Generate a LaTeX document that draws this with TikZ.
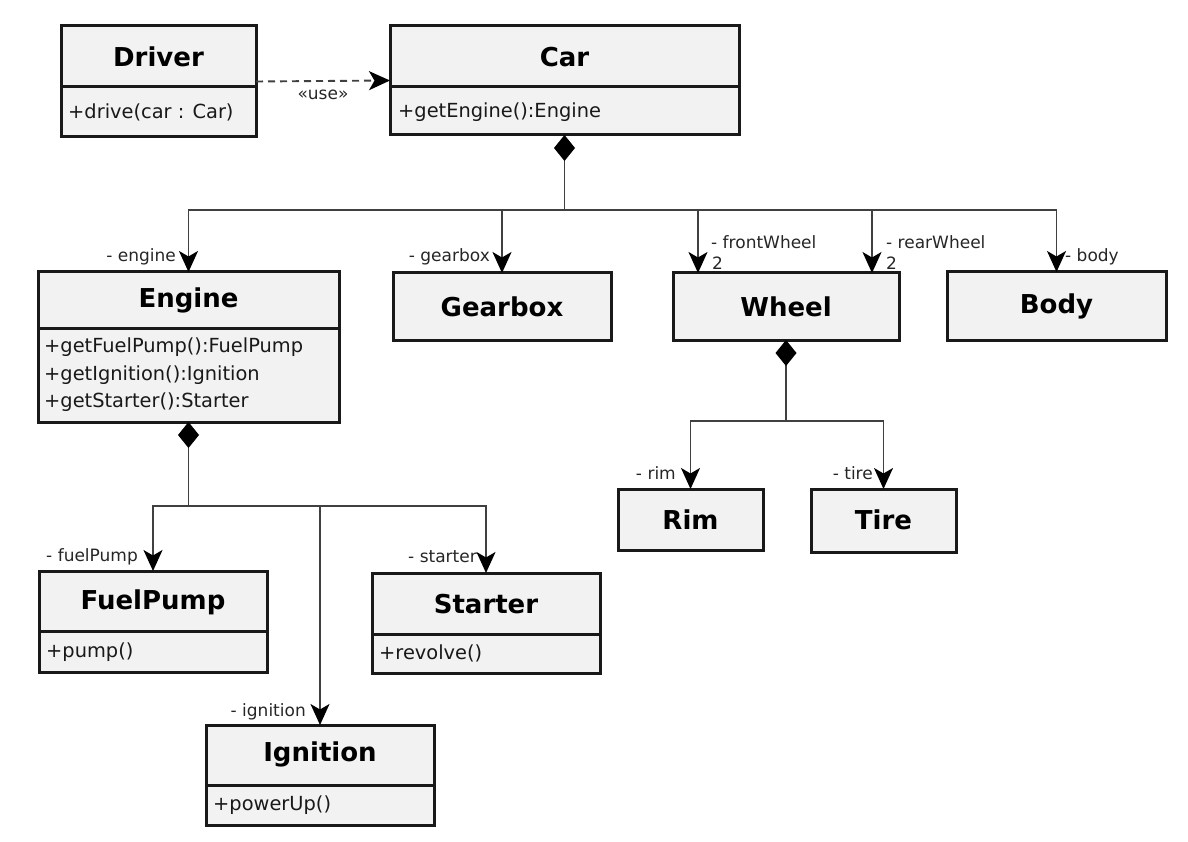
\documentclass[tikz,border=0pt]{standalone}
\usepackage{fontspec}
\setmainfont{DejaVu Sans}
\usetikzlibrary{arrows.meta}
\begin{document}
\begin{tikzpicture}[x=1pt,y=-1pt,
  box/.style={draw=black!90, line width=3pt, fill=black!5, inner sep=0pt, outer sep=0pt},
  divline/.style={draw=black!90, line width=3pt},
  title/.style={font=\bfseries\fontsize{26}{30}\selectfont, inner sep=0pt},
  meth/.style={font=\fontsize{19.4}{23}\selectfont, anchor=west, inner sep=0pt, text=black!90},
  role/.style={font=\fontsize{17}{20}\selectfont, inner sep=0pt, text=black!85},
  conn/.style={draw=black!75, line width=1.9pt},
  headtip/.style={-{Stealth[length=21pt,width=19pt,inset=5.5pt,color=black]}},
  nav/.style={conn, headtip},
  comp/.style={conn, {Diamond[length=26pt,width=21pt,color=black]}-},
]
\useasboundingbox (0,0) rectangle (1188,842);

% ---------- class boxes ----------
\node[box, minimum width=195pt, minimum height=111pt] (driver) at (158.5,81.5) {};
\draw[divline] (driver.west |- 0,87) -- (driver.east |- 0,87);
\node[title] (driverT) at (158.5,57) {Driver};
\node[meth] (driverM) at (68,112) {+drive(car : Car)};

\node[box, minimum width=349pt, minimum height=109pt] (car) at (564.5,80.5) {};
\draw[divline] (car.west |- 0,87) -- (car.east |- 0,87);
\node[title] (carT) at (564.5,57) {Car};
\node[meth] (carM) at (398,112) {+getEngine():Engine};

\node[box, minimum width=301pt, minimum height=150pt] (engine) at (188.5,347) {};
\draw[divline] (engine.west |- 0,328) -- (engine.east |- 0,328);
\node[title] (engineT) at (188.5,300) {Engine};
\node[meth] (engineM1) at (44,347) {+getFuelPump():FuelPump};
\node[meth] (engineM2) at (44,375) {+getIgnition():Ignition};
\node[meth] (engineM3) at (44,402) {+getStarter():Starter};

\node[box, minimum width=218pt, minimum height=67pt] (gearbox) at (502,306.5) {};
\node[title] (gearboxT) at (502,307) {Gearbox};

\node[box, minimum width=226pt, minimum height=67pt] (wheel) at (786,306.5) {};
\node[title] (wheelT) at (786,307) {Wheel};

\node[box, minimum width=219pt, minimum height=68pt] (body) at (1056.5,306) {};
\node[title] (bodyT) at (1056.5,306) {Body};

\node[box, minimum width=145pt, minimum height=61pt] (rim) at (690.5,519.5) {};
\node[title] (rimT) at (690.5,520) {Rim};

\node[box, minimum width=145pt, minimum height=63pt] (tire) at (883.5,520.5) {};
\node[title] (tireT) at (883.5,520) {Tire};

\node[box, minimum width=228pt, minimum height=101pt] (fuelpump) at (153,621.5) {};
\draw[divline] (fuelpump.west |- 0,631) -- (fuelpump.east |- 0,631);
\node[title] (fuelpumpT) at (153,602) {FuelPump};
\node[meth] (fuelpumpM) at (46,652) {+pump()};

\node[box, minimum width=228pt, minimum height=100pt] (starter) at (486,623) {};
\draw[divline] (starter.west |- 0,634) -- (starter.east |- 0,634);
\node[title] (starterT) at (486,604) {Starter};
\node[meth] (starterM) at (379,653) {+revolve()};

\node[box, minimum width=228pt, minimum height=100pt] (ignition) at (320,775) {};
\draw[divline] (ignition.west |- 0,785) -- (ignition.east |- 0,785);
\node[title] (ignitionT) at (320,754) {Ignition};
\node[meth] (ignitionM) at (213,805) {+powerUp()};

% ---------- dependency ----------
\draw[conn, dash pattern=on 7pt off 5pt, headtip]
  (driver.east) -- (car.west)
  node[role, midway, yshift=-14pt] (use) {«use»};

% ---------- Car composition ----------
\coordinate (cj) at (564.5,210);
\draw[comp] (car.south) -- (cj);
\draw[nav] (cj) -| (engine.north);
\draw[nav] (cj) -| (gearbox.north);
\draw[nav] (cj) -| ([xshift=-88pt]wheel.north);
\draw[nav] (cj) -| ([xshift=86pt]wheel.north);
\draw[nav] (cj) -| (body.north);

\node[role, anchor=east] (lEngine) at (176,257) {- engine};
\node[role, anchor=east] (lGear) at (490,257) {- gearbox};
\node[role, anchor=west] (lFront) at (711,242) {- frontWheel};
\node[role, anchor=west] (lFront2) at (712,263) {2};
\node[role, anchor=west] (lRear) at (886,242) {- rearWheel};
\node[role, anchor=west] (lRear2) at (886,263) {2};
\node[role, anchor=west] (lBody) at (1065,257) {- body};

% ---------- Engine composition ----------
\coordinate (ej) at (188.5,506);
\draw[comp] (engine.south) -- (ej);
\draw[nav] (ej) -| (fuelpump.north);
\draw[nav] (ej) -| (starter.north);
\draw[nav] (ej) -| (ignition.north);

\node[role, anchor=east] (lFuel) at (138,557) {- fuelPump};
\node[role, anchor=east] (lStarter) at (477,557) {- starter};
\node[role, anchor=east] (lIgn) at (306,712) {- ignition};

% ---------- Wheel composition ----------
\coordinate (wj) at (786,421);
\draw[comp] (wheel.south) -- (wj);
\draw[nav] (wj) -| (rim.north);
\draw[nav] (wj) -| (tire.north);

\node[role, anchor=east] (lRim) at (676,473) {- rim};
\node[role, anchor=east] (lTire) at (873,473) {- tire};
\end{tikzpicture}
\end{document}
